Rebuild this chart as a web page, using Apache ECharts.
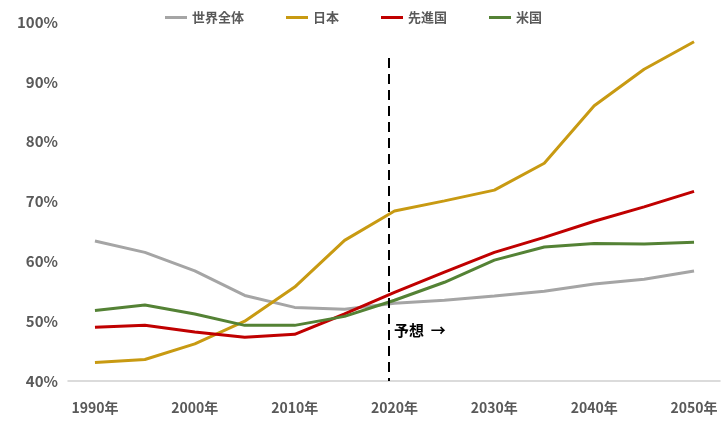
<!DOCTYPE html>
<html><head><meta charset="utf-8">
<script src="https://cdn.jsdelivr.net/npm/echarts@6/dist/echarts.min.js"></script>
<style>html,body{margin:0;background:#fff}#c{width:728px;height:431px}</style>
</head><body><div id="c"></div>
<script>
// 年（5年刻み）
const years = [1990,1995,2000,2005,2010,2015,2020,2025,2030,2035,2040,2045,2050];
const tickYears = [1990,2000,2010,2020,2030,2040,2050];
const world = [63.4,61.5,58.4,54.3,52.3,52.0,53.0,53.5,54.2,55.0,56.2,57.0,58.4];
const japan = [43.1,43.6,46.2,50.0,55.7,63.5,68.4,70.1,71.9,76.4,86.0,92.1,96.7];
const advanced = [49.0,49.3,48.2,47.3,47.8,51.2,54.8,58.2,61.5,64.0,66.7,69.1,71.7];
const us = [51.8,52.7,51.2,49.3,49.3,50.8,53.5,56.5,60.2,62.4,63.0,62.9,63.2];

const font = '"Noto Sans CJK JP", sans-serif';
const pairs = arr => years.map((y, i) => [y, arr[i]]);
const line = (name, data, color) => ({
  name, type: 'line', data: pairs(data), symbol: 'none',
  lineStyle: { width: 3, color }, itemStyle: { color }
});

const chart = echarts.init(document.getElementById('c'));
const series = [
  line('世界全体', world, '#a5a5a5'),
  line('日本', japan, '#c89a12'),
  line('先進国', advanced, '#c00000'),
  line('米国', us, '#548235')
];
series[0].markLine = {
  silent: true, symbol: 'none',
  lineStyle: { type: [10, 6], color: '#000', width: 2 },
  label: { show: false },
  data: [[{ coord: [2019.4, 94] }, { coord: [2019.4, 40] }]]
};

chart.setOption({
  animation: false,
  legend: {
    top: 6, left: 160, itemGap: 42, itemWidth: 22, itemHeight: 3,
    icon: 'rect',
    textStyle: { fontFamily: font, fontWeight: 'bold', fontSize: 13, color: '#595959' }
  },
  grid: { left: 68, right: 8, top: 22, bottom: 50 },
  xAxis: {
    type: 'value', min: 1987.3, max: 2052.6,
    splitLine: { show: false },
    axisLine: { lineStyle: { color: '#d0d0d0', width: 1.5 } },
    axisTick: { show: false },
    axisLabel: {
      customValues: tickYears, formatter: v => v + '年', margin: 20,
      fontFamily: font, fontWeight: 'bold', fontSize: 14, color: '#595959'
    }
  },
  yAxis: {
    type: 'value', min: 40, max: 100, interval: 10,
    splitLine: { show: false },
    axisLine: { show: false }, axisTick: { show: false },
    axisLabel: {
      formatter: '{value}%', margin: 10, align: 'right',
      fontFamily: font, fontWeight: 'bold', fontSize: 15, color: '#595959'
    }
  },
  graphic: [{
    type: 'text', left: 394, top: 323,
    style: { text: '予想  →', fill: '#000', font: 'bold 15px "Noto Sans CJK JP"' }
  }],
  series
});
</script></body></html>
